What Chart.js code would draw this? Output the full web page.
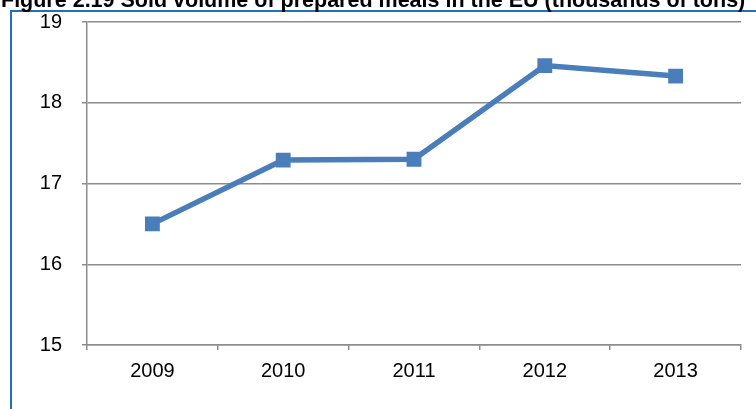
<!DOCTYPE html>
<html>
<head>
<meta charset="utf-8">
<script src="https://cdn.jsdelivr.net/npm/chart.js@4"></script>
<style>
  html, body { margin: 0; padding: 0; background: #fff; overflow: hidden; }
  #wrap { position: relative; width: 756px; height: 409px; overflow: hidden; }
  #title {
    position: absolute; left: 1px; top: -11px; width: 800px; white-space: nowrap;
    font: bold 21.5px "Liberation Sans", Arial, sans-serif; line-height: 22px; color: #000;
  }
  #frame {
    position: absolute; left: 10px; top: 10px; width: 760px; height: 420px;
    border-top: 2px solid #1f6fc0; border-left: 2px solid #1f6fc0;
  }
  #chartBox { position: absolute; left: 0; top: 0; width: 756px; height: 409px; }
</style>
</head>
<body>
<div id="wrap">
  <div id="chartBox"><canvas id="mealsChart"></canvas></div>
  <div id="frame"></div>
  <div id="title">Figure 2.19 Sold volume of prepared meals in the EU (thousands of tons)</div>
</div>
<script>
// Sold volume of prepared meals in the EU (thousands of tons)
const years = ['2009', '2010', '2011', '2012', '2013'];
const volume = [16.50, 17.29, 17.30, 18.46, 18.33];
const yTicks = [15, 16, 17, 18, 19];

const lineBlue = '#4a7ebb';
const gridGrey = '#8c8c8c';
const tickFont = { family: '"Liberation Sans", Arial, sans-serif', size: 20 };

document.addEventListener('DOMContentLoaded', () => {
  const el = document.getElementById('mealsChart');
  new Chart(el, {
    type: 'line',
    data: {
      labels: years,
      datasets: [{
        label: 'Sold volume',
        data: volume,
        borderColor: lineBlue,
        backgroundColor: lineBlue,
        borderWidth: 5.5,
        tension: 0,
        pointStyle: 'rect',
        pointRadius: 10.5,
        pointHoverRadius: 10.5,
        pointBorderWidth: 0,
        pointBackgroundColor: lineBlue
      }]
    },
    options: {
      responsive: true,
      maintainAspectRatio: false,
      animation: false,
      layout: { padding: { left: 0, right: 15, top: 22, bottom: 0 } },
      plugins: {
        legend: { display: false },
        tooltip: { enabled: false }
      },
      scales: {
        x: {
          offset: true,
          grid: { drawOnChartArea: false, drawTicks: true, tickLength: 5, offset: true, color: gridGrey, lineWidth: 1.5 },
          border: { color: gridGrey, width: 1.5 },
          ticks: { color: '#000', padding: 9, font: tickFont },
          afterFit: (s) => { s.height = 64; }
        },
        y: {
          min: 15,
          max: 19,
          afterBuildTicks: (s) => { s.ticks = yTicks.map(v => ({ value: v })); },
          grid: { color: gridGrey, lineWidth: 1.5, tickLength: 5 },
          border: { color: gridGrey, width: 1.5 },
          ticks: { color: '#000', padding: 20, font: tickFont },
          afterFit: (s) => { s.width = 87; s.paddingTop = 0; s.paddingBottom = 0; }
        }
      }
    }
  });
});
</script>
</body>
</html>
